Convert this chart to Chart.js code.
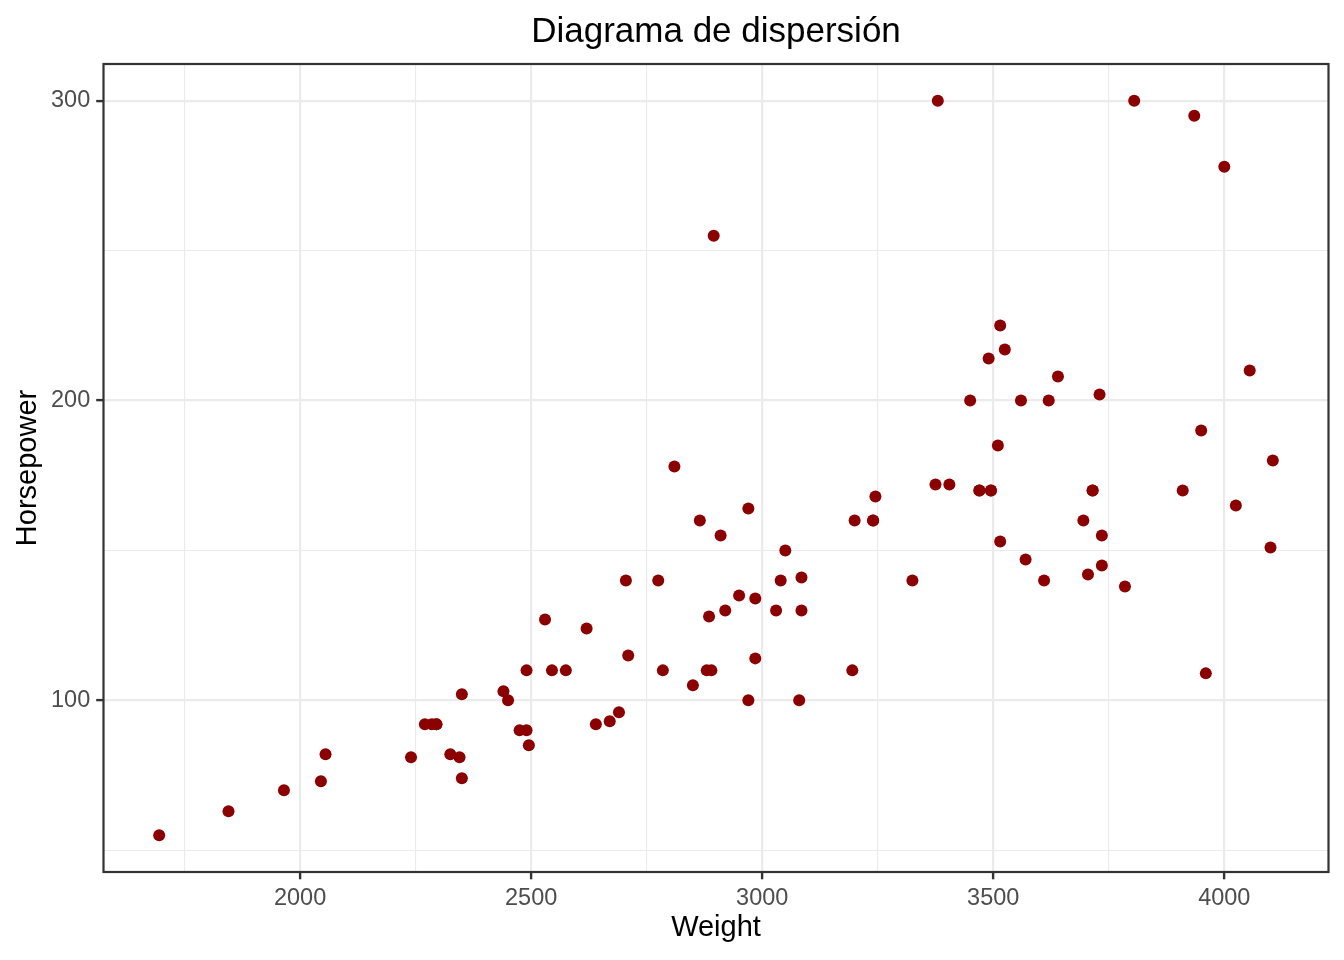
<!DOCTYPE html>
<html>
<head>
<meta charset="utf-8">
<title>Diagrama de dispersión</title>
<script src="https://cdn.jsdelivr.net/npm/chart.js@4/dist/chart.umd.min.js"></script>
<style>
  html, body { margin: 0; padding: 0; background: #fff; }
  #wrap { width: 1344px; height: 960px; position: relative; }
</style>
</head>
<body>
<div id="wrap"><canvas id="chart1"></canvas></div>
<script>
// Cars93: peso vs potencia
var weight = [2705, 3560, 3375, 3405, 3640, 2880, 3470, 4105, 3495, 3620,
              3935, 2490, 2785, 3240, 3195, 3715, 4025, 3910, 3380, 3515,
              3085, 3570, 2270, 2670, 2970, 3705, 3080, 3805, 2295, 3490,
              1845, 2530, 2690, 2850, 2710, 3735, 3325, 3950, 1695, 2475,
              2865, 2350, 3040, 2345, 2620, 2285, 2885, 4000, 3510, 3515,
              3695, 4055, 2325, 2440, 2970, 3735, 2895, 2920, 3525, 2450,
              3610, 2295, 3730, 2545, 3050, 4100, 3200, 2910, 2890, 3715,
              3470, 2640, 2350, 2575, 3240, 3450, 3495, 2775, 2495, 2045,
              2490, 3085, 1965, 2055, 2950, 3030, 3785, 2240, 3960, 2985,
              2810, 2985, 3245];
var horsepower = [140, 200, 172, 172, 208, 110, 170, 180, 170, 200,
                  295, 110, 110, 160, 110, 170, 165, 170, 300, 153,
                  141, 147, 92, 93, 100, 142, 100, 300, 92, 214,
                  63, 127, 96, 105, 115, 145, 140, 190, 55, 90,
                  160, 102, 140, 81, 124, 92, 128, 278, 185, 225,
                  160, 210, 82, 103, 164, 155, 255, 130, 217, 100,
                  140, 92, 202, 110, 150, 151, 160, 155, 110, 170,
                  170, 92, 74, 110, 160, 200, 170, 140, 85, 73,
                  90, 130, 70, 82, 135, 130, 138, 81, 109, 134,
                  178, 114, 168];

var xTicks = [1750, 2000, 2250, 2500, 2750, 3000, 3250, 3500, 3750, 4000];
var xMajor = [2000, 2500, 3000, 3500, 4000];
var yTicks = [50, 100, 150, 200, 250, 300];
var yMajor = [100, 200, 300];

var chartTitle = 'Diagrama de dispersión';
var xLabel = 'Weight';
var yLabel = 'Horsepower';

// rango con 5% de expansion, como ggplot
function expand(arr) {
  let lo = Math.min.apply(null, arr), hi = Math.max.apply(null, arr);
  let d = (hi - lo) * 0.05;
  return [lo - d, hi + d];
}
var xr = expand(weight);
var yr = expand(horsepower);

var points = weight.map(function (w, i) { return {x: w, y: horsepower[i]}; });

var FONT = '"Liberation Sans", Arial, Helvetica, sans-serif';

function gridOpts(major) {
  return {
    color: '#EBEBEB',
    lineWidth: function (ctx) { return ctx.tick && major.includes(ctx.tick.value) ? 2.2 : 1.1; },
    drawTicks: true,
    tickLength: 7.3,
    tickWidth: 2.4,
    tickColor: function (ctx) { return ctx.tick && major.includes(ctx.tick.value) ? '#333333' : 'rgba(0,0,0,0)'; }
  };
}

var panelPlugin = {
  id: 'panel',
  afterDraw: function (chart) {
    let a = chart.chartArea, c = chart.ctx;
    c.save();
    c.strokeStyle = '#333333';
    c.lineWidth = 2.2;
    c.strokeRect(a.left, a.top, a.right - a.left, a.bottom - a.top);
    // titulo centrado sobre el panel
    c.fillStyle = '#000000';
    c.font = '35px ' + FONT;
    c.textAlign = 'center';
    c.textBaseline = 'alphabetic';
    c.fillText(chartTitle, (a.left + a.right) / 2, 42);
    c.restore();
  }
};

var ctx = document.getElementById('chart1');
var myChart = new Chart(ctx, {
  type: 'scatter',
  data: {
    datasets: [{
      label: 'Cars93',
      data: points,
      backgroundColor: '#8B0000',
      borderWidth: 0,
      pointRadius: 6,
      pointHoverRadius: 6
    }]
  },
  options: {
    responsive: true,
    maintainAspectRatio: false,
    animation: false,
    devicePixelRatio: 1,
    layout: { padding: { left: 0, right: 15.5, top: 64, bottom: 0 } },
    plugins: {
      legend: { display: false },
      title: { display: false },
      tooltip: { enabled: false }
    },
    scales: {
      x: {
        type: 'linear',
        min: xr[0],
        max: xr[1],
        afterBuildTicks: function (s) { s.ticks = xTicks.map(function (v) { return {value: v}; }); },
        afterFit: function (s) { s.height = 88; },
        grid: gridOpts(xMajor),
        border: { display: false },
        ticks: {
          autoSkip: false,
          maxRotation: 0,
          padding: 5,
          color: '#4D4D4D',
          font: { family: FONT, size: 23.5 },
          callback: function (v) { return xMajor.includes(v) ? String(v) : ''; }
        },
        title: {
          display: true,
          text: xLabel,
          color: '#000000',
          font: { family: FONT, size: 29 },
          padding: { top: 0, bottom: 14.6 }
        }
      },
      y: {
        type: 'linear',
        min: yr[0],
        max: yr[1],
        afterBuildTicks: function (s) { s.ticks = yTicks.map(function (v) { return {value: v}; }); },
        afterFit: function (s) { s.width = 103.5; },
        grid: gridOpts(yMajor),
        border: { display: false },
        ticks: {
          autoSkip: false,
          padding: 6,
          color: '#4D4D4D',
          font: { family: FONT, size: 23.5 },
          callback: function (v) { return yMajor.includes(v) ? String(v) : ''; }
        },
        title: {
          display: true,
          text: yLabel,
          color: '#000000',
          font: { family: FONT, size: 29 },
          padding: { top: 10.6, bottom: 0 }
        }
      }
    }
  },
  plugins: [panelPlugin]
});
</script>
</body>
</html>
